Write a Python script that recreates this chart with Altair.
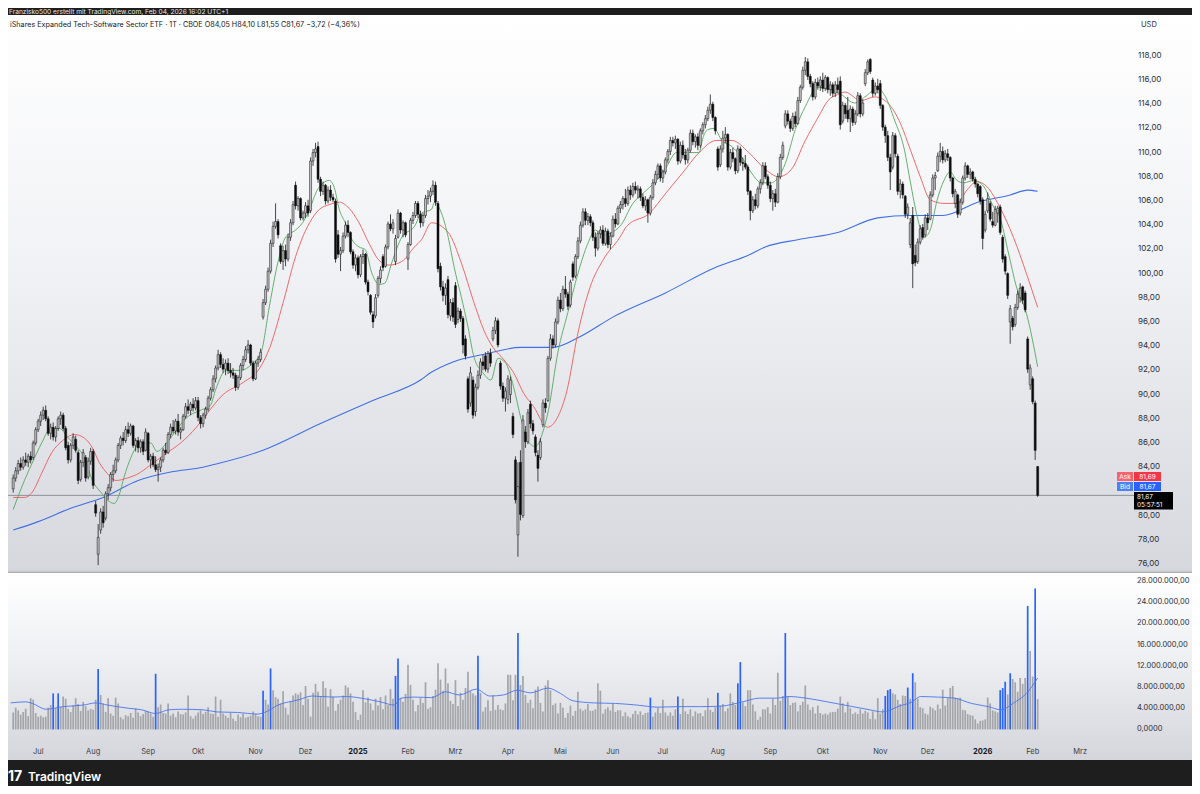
import altair as alt
import pandas as pd

# trading-day index: 0 = 1 Jul 2024, first candle = 14 Jun 2024 (index -10), last = 4 Feb 2026 (index 400)
FIRST_INDEX = -10

OPEN = [
    82.2, 83.1, 83.7, 84.3, 84.0, 84.6, 84.4, 84.9, 84.8, 86.0,  # Jun 24
    87.1, 87.8, 88.3, 88.7, 88.0, 86.8, 87.3, 86.5, 87.2, 88.0, 88.3, 87.2, 85.8, 84.6, 85.8, 86.3, 85.2, 83.0, 84.4, 84.8, 83.2, 84.5,  # Jul
    85.3, 80.9, 76.8, 78.8, 80.3, 79.8, 81.8, 82.3, 83.4, 83.7, 84.6, 85.8, 86.4, 86.2, 87.1, 86.8, 87.4, 85.8, 86.2, 85.6, 86.1, 85.4,  # Aug
    86.8, 84.6, 84.9, 84.2, 83.8, 84.0, 84.6, 85.4, 85.2, 86.7, 87.3, 87.0, 87.8, 86.9, 87.1, 88.2, 89.0, 88.7, 89.2, 88.9,  # Sep
    89.5, 88.1, 87.6, 88.3, 88.8, 89.7, 90.4, 91.3, 92.2, 93.3, 92.5, 92.1, 92.6, 92.0, 91.8, 91.6, 90.6, 91.4, 92.4, 92.9, 93.7, 94.1, 92.6,  # Okt
    91.3, 92.6, 92.9, 96.4, 97.6, 98.7, 100.2, 102.5, 103.9, 104.3, 102.3, 101.0, 101.9, 101.2, 103.0, 104.2, 107.3, 105.6, 106.2, 104.6,  # Nov
    105.0, 105.6, 105.2, 109.3, 110.0, 110.5, 107.8, 106.8, 107.3, 106.0, 106.9, 106.3, 106.0, 103.2, 101.6, 101.9, 103.1, 104.0, 103.4, 101.8, 100.7,  # Dez
    101.3, 99.9, 101.4, 101.6, 99.3, 98.2, 96.6, 96.5, 98.2, 99.6, 101.4, 100.6, 102.2, 104.1, 103.7, 101.0, 103.0, 105.0, 103.6, 104.2,  # Jan 25
    101.2, 102.4, 104.4, 104.8, 105.8, 104.9, 104.2, 104.8, 106.2, 106.4, 106.8, 107.3, 105.8, 100.6, 98.9, 98.2, 99.5, 96.5, 97.6,  # Feb
    99.0, 96.2, 96.9, 96.3, 94.6, 91.3, 89.3, 91.2, 88.6, 90.6, 91.6, 92.7, 93.2, 92.1, 93.4, 94.6, 95.3, 96.1, 92.6, 90.7, 89.7,  # Mrz
    89.6, 90.0, 88.2, 84.6, 78.4, 84.4, 80.0, 86.9, 86.1, 89.2, 87.6, 86.5, 85.0, 84.8, 87.5, 89.3, 89.5, 93.0, 94.6, 94.1, 96.0,  # Apr
    97.8, 97.1, 98.7, 98.3, 97.4, 100.8, 99.8, 101.4, 102.7, 104.0, 105.1, 104.4, 104.7, 104.2, 103.0, 102.1, 103.3, 103.6, 102.5, 103.5, 102.4,  # Mai
    103.1, 104.5, 104.1, 105.4, 105.7, 106.2, 105.8, 106.9, 106.5, 107.2, 106.9, 107.0, 106.3, 105.6, 106.1, 105.0, 106.3, 107.5, 108.2, 108.9,  # Jun
    107.9, 108.4, 109.4, 110.1, 111.0, 110.8, 111.1, 109.3, 110.6, 109.8, 109.4, 110.2, 111.6, 110.9, 111.3, 110.6, 111.8, 112.3, 112.8, 113.5, 114.0, 112.9,  # Jul
    110.3, 109.0, 110.3, 111.2, 111.5, 108.8, 110.0, 109.5, 108.5, 110.3, 109.2, 109.1, 108.8, 106.8, 105.2, 106.1, 105.6, 107.0, 107.5, 108.9, 108.0,  # Aug
    107.3, 106.2, 106.6, 105.9, 108.0, 109.6, 112.2, 113.2, 112.6, 112.0, 113.0, 112.4, 114.3, 115.4, 116.8, 117.5, 116.3, 115.7, 114.6, 115.8, 115.5,  # Sep
    116.0, 115.3, 116.2, 115.2, 115.6, 114.9, 115.6, 115.9, 112.6, 113.9, 113.5, 112.8, 113.6, 112.5, 113.2, 114.7, 113.2, 115.7, 116.6, 117.7, 116.0, 114.9, 115.5,  # Okt
    115.7, 113.9, 112.1, 111.4, 109.6, 108.8, 111.4, 109.7, 106.8, 107.4, 106.4, 104.9, 102.4, 104.8, 101.5, 101.0, 102.6, 103.8, 103.2,  # Nov
    104.6, 104.5, 106.5, 107.9, 108.5, 109.7, 110.1, 109.4, 109.9, 109.6, 107.9, 105.8, 106.5, 105.0, 105.9, 107.9, 108.9, 108.2, 108.4, 107.8, 107.4, 107.2,  # Dez
    106.1, 103.6, 105.2, 105.8, 104.3, 104.0, 105.0, 105.5, 103.0, 101.4, 100.0, 96.0, 96.3, 95.8, 97.2, 98.0, 98.9, 98.4, 94.6, 90.8,  # Jan 26
    91.3, 89.3, 84.05,  # Feb
]

HIGH = [
    83.4, 84.0, 84.6, 84.8, 84.9, 85.2, 85.1, 85.3, 86.2, 87.3,
    88.0, 88.6, 89.0, 89.1, 88.2, 87.6, 87.7, 87.4, 88.2, 88.6, 88.5, 87.4, 86.1, 86.0, 86.8, 86.6, 85.4, 84.6, 85.5, 85.0, 84.8, 85.6,
    85.5, 81.2, 79.3, 80.6, 80.8, 82.0, 82.6, 83.6, 84.2, 84.8, 86.0, 86.6, 86.9, 87.4, 87.7, 87.6, 87.5, 86.4, 86.5, 86.3, 86.3, 87.2,
    86.9, 85.1, 85.2, 84.9, 84.3, 84.8, 85.6, 86.0, 86.9, 87.6, 87.9, 88.0, 88.4, 87.3, 88.4, 89.3, 89.6, 89.4, 89.7, 89.8,
    89.8, 88.3, 88.5, 89.0, 89.9, 90.6, 91.6, 92.4, 93.7, 93.5, 93.0, 92.9, 93.0, 92.6, 92.2, 91.8, 91.6, 92.6, 93.2, 94.0, 94.5, 94.2, 92.8,
    92.8, 93.2, 93.8, 97.9, 99.0, 100.5, 102.8, 104.3, 105.8, 104.5, 102.5, 102.3, 102.4, 103.3, 104.5, 106.0, 107.6, 106.4, 106.3, 105.2,
    105.9, 106.1, 109.6, 110.3, 110.8, 110.9, 108.0, 107.6, 107.4, 107.2, 107.3, 106.6, 106.2, 103.6, 102.2, 103.4, 104.3, 104.4, 103.5, 102.0, 101.6,
    101.5, 101.6, 102.0, 101.7, 99.5, 98.3, 96.9, 98.3, 99.8, 100.6, 101.6, 102.4, 104.3, 104.9, 104.5, 103.2, 105.3, 105.1, 104.4, 104.3,
    102.6, 104.6, 105.1, 106.0, 106.0, 105.2, 105.0, 106.5, 106.9, 107.1, 107.7, 107.6, 106.0, 100.9, 99.4, 99.2, 99.8, 97.9, 98.0,
    99.3, 97.2, 97.1, 96.5, 94.9, 91.5, 92.3, 91.5, 90.9, 92.0, 93.0, 93.3, 93.5, 93.6, 93.8, 95.6, 96.4, 96.3, 92.8, 91.0, 90.6,
    91.6, 91.5, 88.5, 84.9, 84.4, 85.4, 88.3, 87.4, 88.8, 89.5, 87.9, 86.7, 85.4, 86.4, 89.6, 89.7, 93.2, 95.0, 94.9, 96.3, 98.1,
    98.4, 99.0, 99.8, 98.5, 99.5, 101.0, 101.6, 103.0, 104.3, 105.4, 105.4, 105.0, 104.9, 104.4, 103.4, 103.5, 103.9, 104.0, 103.8, 103.7, 103.4,
    104.8, 105.0, 105.6, 106.0, 106.4, 107.0, 107.2, 107.3, 107.5, 107.6, 107.3, 107.2, 106.6, 106.4, 106.2, 106.5, 107.8, 108.5, 109.1, 109.1,
    108.6, 109.6, 110.3, 111.3, 111.3, 111.4, 111.2, 110.9, 111.0, 110.3, 110.4, 111.9, 111.9, 111.5, 111.6, 112.0, 112.5, 113.1, 113.8, 114.8, 114.2, 113.0,
    110.5, 110.6, 111.8, 112.1, 111.6, 110.3, 110.4, 109.6, 110.6, 110.5, 109.6, 109.8, 109.0, 106.9, 106.4, 106.6, 107.2, 107.8, 109.2, 109.2, 108.2,
    107.6, 106.9, 107.0, 108.3, 109.9, 110.9, 113.5, 113.5, 112.8, 113.3, 113.4, 114.6, 115.6, 117.1, 117.9, 117.8, 116.5, 115.9, 116.1, 116.2, 116.3,
    116.6, 116.4, 116.3, 115.9, 115.8, 115.9, 116.2, 116.3, 114.2, 114.1, 114.6, 113.9, 113.8, 113.5, 115.0, 114.9, 114.4, 116.9, 117.7, 117.8, 116.2, 115.8, 116.1,
    116.0, 114.0, 112.3, 111.8, 109.9, 111.7, 111.6, 109.9, 107.8, 107.6, 106.5, 105.8, 104.6, 105.5, 102.4, 102.9, 104.0, 104.1, 104.9,
    105.0, 106.8, 108.2, 108.4, 110.0, 110.8, 110.5, 110.2, 110.3, 109.7, 108.0, 107.0, 106.6, 106.2, 108.1, 109.2, 109.0, 108.7, 108.5, 108.0, 107.5, 107.3,
    106.3, 105.2, 106.7, 106.0, 105.1, 105.6, 105.6, 105.7, 103.2, 101.6, 100.1, 97.4, 96.5, 97.5, 98.6, 99.2, 99.0, 98.6, 94.8, 92.5,
    91.5, 89.5, 84.10,
]

LOW = [
    81.9, 82.8, 83.4, 83.7, 83.8, 84.1, 84.0, 84.3, 84.6, 85.8,
    86.9, 87.4, 87.9, 87.8, 86.6, 86.3, 86.2, 86.1, 87.0, 87.5, 87.0, 85.4, 84.3, 84.4, 85.5, 85.2, 82.6, 82.8, 84.0, 82.8, 83.0, 84.2,
    82.2, 79.9, 75.9, 78.5, 79.0, 79.6, 81.3, 82.0, 82.8, 83.5, 84.4, 85.5, 85.8, 86.0, 86.5, 86.6, 85.6, 85.3, 85.2, 85.2, 85.0, 85.3,
    84.4, 83.9, 84.0, 83.6, 82.8, 83.6, 84.4, 85.0, 85.1, 86.4, 86.8, 86.7, 86.6, 86.3, 87.0, 88.0, 88.4, 88.3, 88.6, 88.7,
    87.8, 87.2, 87.3, 88.0, 88.6, 89.5, 90.2, 91.0, 92.0, 92.2, 91.8, 91.6, 91.7, 91.4, 91.3, 90.3, 90.4, 91.2, 92.0, 92.7, 93.4, 92.4, 91.1,
    91.2, 92.3, 92.7, 96.2, 97.4, 98.5, 100.0, 102.2, 103.7, 102.9, 100.8, 100.3, 100.6, 101.0, 102.7, 104.0, 105.3, 105.2, 104.4, 104.4,
    104.6, 104.7, 105.0, 108.9, 109.6, 107.5, 106.4, 106.5, 105.7, 105.8, 106.0, 105.9, 100.9, 101.3, 100.2, 101.7, 102.9, 103.0, 101.6, 100.4, 100.2,
    99.6, 99.7, 100.8, 99.1, 98.2, 96.6, 95.5, 96.3, 98.0, 99.2, 100.2, 100.5, 102.0, 103.5, 103.3, 100.7, 102.9, 103.3, 103.0, 103.0,
    100.3, 102.3, 104.1, 104.6, 104.6, 103.8, 103.9, 104.6, 105.7, 105.9, 106.5, 105.6, 100.1, 98.6, 97.7, 97.4, 96.3, 96.1, 96.0,
    95.5, 95.9, 96.0, 93.4, 92.9, 88.5, 89.0, 88.0, 88.2, 90.4, 91.3, 92.0, 91.9, 91.8, 92.3, 94.4, 95.0, 93.9, 90.4, 89.4, 88.6,
    89.2, 89.3, 86.4, 81.0, 76.6, 79.6, 79.8, 85.6, 85.9, 87.2, 86.7, 84.9, 82.8, 84.6, 87.3, 88.5, 89.4, 92.8, 93.8, 93.9, 95.8,
    96.8, 96.9, 98.0, 97.0, 97.2, 99.4, 99.6, 101.2, 102.5, 103.8, 104.0, 104.0, 103.9, 102.7, 101.4, 101.9, 102.9, 102.3, 102.3, 102.1, 102.0,
    103.0, 103.8, 104.0, 105.0, 105.3, 105.5, 105.6, 106.1, 106.3, 106.6, 106.2, 106.0, 105.4, 105.2, 104.2, 104.8, 106.1, 107.3, 107.8, 107.6,
    107.5, 108.2, 109.1, 109.8, 110.5, 110.3, 109.0, 109.1, 109.5, 109.0, 109.1, 110.0, 110.6, 110.4, 110.2, 110.4, 111.5, 112.0, 112.6, 113.2, 112.6, 111.5,
    108.5, 108.8, 110.0, 110.8, 108.5, 108.6, 109.2, 108.2, 108.3, 108.9, 108.5, 108.6, 106.5, 104.4, 105.0, 105.3, 105.4, 106.6, 107.3, 107.8, 107.0,
    105.9, 105.2, 105.5, 105.8, 107.8, 109.4, 112.0, 112.3, 111.7, 111.8, 112.1, 112.3, 114.1, 115.2, 116.4, 116.0, 115.4, 114.3, 114.4, 115.2, 115.1,
    115.0, 115.1, 114.9, 114.7, 114.6, 114.6, 114.9, 111.9, 112.4, 112.8, 112.5, 111.7, 112.2, 112.3, 113.0, 112.9, 113.0, 115.5, 116.4, 116.5, 114.6, 114.7, 114.9,
    113.6, 111.8, 110.8, 109.3, 106.9, 108.6, 109.6, 106.5, 106.2, 106.2, 104.6, 104.5, 102.1, 98.8, 100.6, 100.8, 102.4, 102.8, 103.0,
    103.6, 104.4, 106.3, 106.9, 108.4, 109.2, 109.1, 109.2, 109.3, 107.6, 106.3, 105.4, 104.6, 104.8, 105.7, 107.7, 107.9, 107.8, 107.6, 107.1, 106.3, 105.7,
    102.0, 103.4, 105.0, 104.3, 103.8, 103.9, 104.2, 103.2, 100.9, 99.9, 97.9, 94.2, 95.3, 95.6, 97.0, 97.6, 97.5, 96.8, 91.8, 90.4,
    89.2, 84.6, 81.55,
]

CLOSE = [
    83.1, 83.7, 84.3, 84.0, 84.6, 84.4, 84.9, 84.6, 86.0, 87.1,
    87.8, 88.3, 88.7, 88.0, 86.8, 87.3, 86.5, 87.2, 88.0, 88.3, 87.2, 85.6, 84.6, 85.8, 86.5, 85.4, 82.9, 84.4, 85.2, 83.1, 84.5, 85.3,
    82.5, 80.2, 78.2, 80.3, 79.4, 81.8, 82.3, 83.4, 83.7, 84.6, 85.8, 86.4, 86.2, 87.1, 86.8, 87.4, 85.8, 86.2, 85.6, 86.1, 85.3, 86.9,
    84.6, 84.9, 84.2, 83.8, 84.0, 84.6, 85.4, 85.2, 86.7, 87.3, 87.0, 87.8, 86.9, 87.1, 88.2, 89.0, 88.7, 89.2, 88.9, 89.5,
    88.1, 87.6, 88.3, 88.8, 89.7, 90.4, 91.3, 92.2, 93.3, 92.5, 92.1, 92.6, 92.0, 91.8, 91.6, 90.6, 91.4, 92.4, 92.9, 93.7, 94.1, 92.6, 91.3,
    92.6, 92.9, 93.5, 97.6, 98.7, 100.2, 102.5, 103.9, 104.3, 103.2, 101.0, 101.9, 101.2, 103.0, 104.2, 105.7, 105.6, 106.2, 104.6, 105.0,
    105.6, 105.0, 109.3, 110.0, 110.3, 107.8, 106.8, 107.3, 106.0, 106.9, 106.3, 106.1, 101.2, 101.6, 101.9, 103.1, 104.0, 103.4, 101.8, 100.7, 101.3,
    99.9, 101.4, 101.6, 99.3, 98.5, 96.8, 96.0, 98.0, 99.6, 100.3, 100.5, 102.2, 104.1, 103.7, 104.2, 102.9, 105.0, 103.6, 104.2, 103.2,
    102.4, 104.4, 104.8, 105.8, 104.9, 104.2, 104.8, 106.2, 106.4, 106.8, 107.3, 105.9, 100.4, 98.9, 98.2, 98.8, 96.6, 97.6, 96.4,
    95.8, 96.9, 96.3, 94.1, 93.2, 88.8, 91.8, 88.3, 90.6, 91.6, 92.7, 92.4, 92.1, 93.4, 92.6, 95.3, 96.1, 94.1, 90.7, 89.7, 90.3,
    91.3, 91.2, 86.7, 81.3, 82.4, 80.1, 87.9, 86.1, 88.5, 87.6, 87.0, 85.2, 83.9, 86.1, 89.3, 88.9, 93.0, 94.6, 94.1, 96.0, 97.8,
    97.1, 98.7, 98.3, 97.3, 99.3, 99.7, 101.4, 102.7, 104.0, 105.1, 104.4, 104.7, 104.2, 103.0, 102.1, 103.3, 103.6, 102.5, 103.5, 102.4, 103.1,
    104.5, 104.1, 105.4, 105.7, 106.2, 105.8, 106.9, 106.5, 107.2, 106.9, 107.0, 106.3, 105.6, 106.1, 105.0, 106.3, 107.5, 108.2, 108.9, 107.9,
    108.4, 109.4, 110.1, 111.0, 110.8, 111.1, 109.3, 110.6, 109.8, 109.4, 110.2, 111.6, 110.9, 111.3, 110.6, 111.8, 112.3, 112.8, 113.5, 114.0, 112.9, 111.8,
    108.8, 110.3, 111.2, 111.5, 108.8, 110.0, 109.5, 108.5, 110.3, 109.2, 109.1, 108.8, 106.8, 105.2, 106.1, 105.6, 107.0, 107.5, 108.9, 108.0, 107.3,
    106.2, 106.6, 105.9, 108.0, 109.6, 110.6, 113.2, 112.6, 112.0, 113.0, 112.4, 114.3, 115.4, 116.8, 117.5, 116.3, 115.7, 114.6, 115.8, 115.5, 116.0,
    115.3, 116.2, 115.2, 115.6, 114.9, 115.6, 115.2, 112.3, 113.9, 113.2, 112.8, 113.6, 112.5, 113.2, 114.7, 113.2, 114.1, 116.6, 117.5, 116.7, 114.9, 115.5, 115.2,
    113.9, 112.1, 111.4, 109.6, 108.4, 111.4, 109.9, 106.8, 107.4, 106.5, 104.9, 105.5, 104.2, 100.8, 100.9, 102.6, 103.7, 103.0, 104.6,
    104.2, 106.5, 107.9, 108.1, 109.7, 110.1, 109.4, 109.9, 109.6, 107.9, 106.6, 106.8, 104.9, 105.9, 107.9, 108.9, 108.2, 108.4, 107.8, 107.4, 106.6, 106.0,
    102.9, 104.9, 106.2, 104.5, 104.0, 105.3, 105.4, 103.4, 101.2, 100.2, 98.2, 97.1, 95.6, 97.2, 98.3, 98.8, 97.8, 97.0, 92.1, 92.2,
    89.4, 85.39, 81.67,
]

# volume in millions of shares
VOLUME_M = [
    3.2, 4.1, 3.6, 2.8, 3.3, 3.9, 2.5, 5.9, 5.6, 3.1,
    2.4, 2.6, 2.3, 2.4, 4.1, 4.6, 6.8, 4.0, 6.8, 4.2, 6.2, 5.8, 3.9, 3.3, 4.6, 5.9, 4.8, 3.5, 5.2, 4.4, 3.6, 3.9,
    3.7, 5.6, 11.4, 6.5, 4.9, 3.3, 5.9, 3.0, 2.6, 6.0, 4.9, 2.3, 1.9, 2.7, 2.5, 3.1, 2.2, 4.0, 3.2, 2.5, 2.9, 3.5,
    3.4, 3.0, 2.4, 10.5, 4.2, 4.7, 3.1, 3.0, 4.9, 2.6, 3.0, 2.3, 3.4, 2.9, 2.8, 3.2, 6.4, 2.5, 2.0, 2.6,
    3.2, 3.6, 2.9, 3.3, 4.2, 3.0, 2.9, 6.2, 2.4, 5.6, 3.0, 2.6, 2.2, 3.1, 2.0, 1.6, 2.8, 2.3, 3.0, 2.2, 2.4, 2.6, 3.4,
    2.9, 2.5, 2.4, 7.3, 5.6, 4.7, 11.5, 7.4, 6.1, 5.8, 4.9, 7.2, 4.1, 2.8, 5.3, 6.4, 6.8, 6.6, 7.0, 4.6,
    8.2, 5.8, 2.4, 6.9, 8.6, 7.1, 6.3, 9.1, 7.8, 4.3, 7.6, 6.2, 3.5, 4.8, 5.6, 6.4, 8.3, 7.9, 6.8, 5.2, 3.3,
    1.8, 2.8, 7.4, 5.1, 6.0, 4.9, 3.6, 5.8, 4.5, 6.1, 3.8, 6.4, 4.6, 7.6, 5.8, 10.1, 13.4, 5.9, 5.2, 6.7,
    12.2, 8.4, 5.6, 3.4, 4.6, 5.9, 5.0, 8.9, 3.9, 4.2, 6.3, 7.5, 12.5, 9.4, 7.3, 11.5, 8.7, 5.4, 4.8,
    9.3, 4.4, 6.9, 5.6, 7.8, 10.9, 7.2, 6.8, 6.4, 13.9, 6.9, 3.4, 4.2, 5.5, 3.5, 6.4, 3.7, 4.6, 3.8, 3.6, 4.9,
    10.3, 10.3, 5.5, 10.3, 18.2, 8.4, 10.1, 6.5, 5.0, 5.6, 4.0, 7.5, 8.1, 5.0, 3.4, 8.3, 9.3, 7.4, 4.6, 4.9, 3.0,
    5.0, 4.1, 2.2, 3.1, 4.5, 2.6, 3.5, 7.1, 3.9, 3.5, 3.8, 4.8, 3.5, 3.5, 3.8, 8.7, 7.3, 3.0, 3.8, 4.2, 3.6,
    4.8, 3.3, 3.6, 3.6, 2.5, 3.2, 2.5, 2.2, 2.9, 3.5, 2.8, 3.4, 2.7, 3.1, 3.2, 6.0, 2.4, 3.2, 4.1, 3.1,
    5.6, 3.2, 2.6, 3.2, 2.6, 3.8, 6.2, 2.9, 5.8, 3.4, 2.9, 3.8, 2.5, 3.4, 3.0, 3.1, 2.5, 3.6, 5.9, 3.7, 3.3, 4.2,
    6.9, 4.5, 4.8, 3.4, 4.0, 6.8, 5.2, 4.6, 8.7, 12.7, 5.1, 4.4, 7.4, 7.4, 4.7, 3.4, 1.8, 2.4, 3.8, 3.8, 4.2,
    3.0, 5.8, 4.6, 10.7, 5.4, 6.3, 18.2, 6.2, 4.6, 5.0, 5.1, 3.4, 4.6, 5.2, 8.3, 4.7, 3.7, 4.2, 3.0, 4.5, 3.1,
    2.8, 3.0, 2.8, 3.2, 3.3, 3.3, 3.9, 6.2, 4.9, 3.2, 5.2, 4.0, 2.9, 3.2, 2.9, 3.8, 3.0, 3.5, 3.2, 2.0, 3.4, 1.9, 5.9,
    3.0, 3.8, 6.3, 7.4, 7.6, 6.8, 6.6, 5.6, 4.8, 6.4, 6.3, 7.9, 5.8, 10.6, 8.9, 5.8, 4.2, 4.0, 3.0,
    2.8, 4.3, 4.0, 3.6, 4.7, 3.9, 7.5, 4.5, 5.9, 7.8, 8.2, 6.0, 5.9, 6.0, 3.7, 3.6, 2.9, 2.7, 2.6, 1.9, 1.1, 1.6,
    1.7, 1.9, 6.0, 4.9, 3.6, 3.4, 3.2, 7.4, 7.8, 9.0, 6.6, 10.6, 9.5, 8.9, 7.1, 9.7, 8.6, 9.7, 23.3, 14.8,
    10.0, 26.6, 5.7,
]

# days whose volume bar is drawn blue (volume spikes)
BLUE_VOLUME_IDX = [6, 8, 24, 47, 90, 93, 143, 144, 176, 192, 245, 256, 272, 280, 281, 299,
                   339, 340, 341, 348, 350, 385, 386, 387, 389, 396, 399]

# moving averages (trading-day index, value)
FAST_MA_IDX = [-10, -6.5, -2.5, 1.4, 4.6, 8.6, 11.7, 15.3, 18.5, 21.7, 25.2, 27.6, 30.4, 32.4, 34.4, 37.1,
               41.1, 45.1, 47.5, 51.4, 55.4, 59.4, 64.9, 68.9, 71, 75.2, 80.8, 86, 89.1, 92.7, 95.9, 99,
               103, 105.8, 108.6, 111.7, 116.5, 118.5, 120.5, 122.9, 125.6, 128.4, 130.8, 133.6, 136.4,
               138.7, 141.5, 145.5, 150.6, 153.4, 157.4, 158.6, 161.4, 164.1, 166.5, 169.3, 172, 174.4,
               178, 181.2, 184, 187.1, 190.3, 193.1, 195.9, 199, 201.8, 204.2, 208, 212, 216, 220, 223,
               226, 232.8, 238, 243.5, 247.5, 251.4, 255.4, 259.4, 264.5, 266, 268, 270.5, 273.6, 277.6,
               281.6, 285.5, 289.5, 293.5, 296.3, 299, 303, 307, 312.1, 316, 321.3, 326.8, 330.8, 336,
               339.1, 342.7, 346.7, 349.1, 351.8, 354.6, 357, 359.8, 362.5, 364.9, 367.7, 370.5, 374.4,
               378.4, 382.4, 384.8, 388.3, 391.5, 395.5, 400]
FAST_MA_VAL = [80.5, 82.4, 84.3, 86.0, 87.1, 87.2, 86.5, 85.7, 84.8, 82.9, 81.9, 81.3, 81.0, 81.7, 83.2, 84.8,
               86.0, 86.0, 85.3, 86.0, 87.1, 88.1, 88.7, 89.1, 90.4, 92.0, 92.0, 92.6, 93.4, 97.5, 100.9, 103.0,
               103.6, 104.2, 105.3, 106.9, 107.7, 107.1, 105.3, 104.2, 102.8, 102.2, 102.0, 100.0, 99.1,
               99.2, 100.9, 103.0, 103.9, 105.0, 105.3, 105.9, 105.0, 103.0, 100.5, 98.1, 95.6, 93.1,
               91.8, 91.2, 93.0, 92.6, 90.6, 88.1, 86.2, 85.7, 86.8, 88.7, 93.5, 96.8, 100.0, 102.5, 103.6,
               103.2, 103.9, 105.8, 106.9, 107.7, 108.8, 110.0, 110.0, 110.0, 111.2, 111.9, 112.0, 111.0, 110.5,
               109.6, 108.3, 107.5, 107.5, 108.0, 109.1, 111.9, 113.8, 115.4, 115.3, 114.8, 114.1, 114.6, 115.3,
               114.6, 112.7, 110.2, 107.5, 104.7, 103.0, 103.6, 106.1, 107.7, 108.4, 107.7, 107.5, 107.7,
               107.2, 105.5, 104.7, 101.7, 98.9, 96.7, 92.3]

SLOW_MA_IDX = [-10, -5.3, -2.5, 1.4, 5.4, 9.8, 14.5, 18.5, 21.7, 24.4, 27.6, 31.2, 35.6, 39.5, 45.1, 50.2,
               57, 63.3, 66, 74, 82, 88.7, 92.7, 97.9, 103, 108.6, 112.5, 116.5, 120.5, 124.4, 128.4,
               132.4, 136.4, 140.3, 145.5, 150.6, 153.4, 157.4, 164.1, 169.3, 174.4, 178.4, 182, 186.3,
               190.3, 194.3, 198.3, 203.8, 207.8, 211.7, 215.7, 220.9, 226, 232.8, 235.5, 244.7, 251.4,
               257.8, 264.5, 271.3, 277.7, 284.4, 291.1, 296.3, 301.4, 307, 312.1, 316.1, 320, 322.9,
               329.2, 334.8, 340, 345.1, 349.1, 353, 357, 362.5, 367.7, 371.7, 375.6, 379.6, 384.8,
               390.3, 395.5, 400]
SLOW_MA_VAL = [81.5, 81.5, 81.9, 83.5, 85.2, 86.2, 86.7, 86.4, 85.6, 84.4, 83.5, 82.9, 83.1, 83.4, 84.2, 85.0,
               86.0, 87.3, 88.0, 90.0, 91.0, 92.2, 93.9, 97.5, 101.4, 104.2, 105.3, 105.7, 105.9, 105.4, 104.2,
               102.5, 101.1, 100.7, 101.0, 102.2, 102.8, 104.2, 103.4, 100.9, 97.6, 95.3, 93.9, 92.9,
               91.8, 90.1, 89.0, 87.3, 88.1, 90.4, 94.8, 98.9, 101.1, 103.0, 103.9, 105.0, 106.7,
               108.3, 110.0, 111.0, 111.0, 110.0, 108.6, 108.0, 108.6, 111.0, 112.9, 114.3, 114.8, 115.0,
               114.3, 114.6, 114.1, 112.4, 110.2, 108.0, 106.1, 105.8, 105.8, 106.9, 107.6, 107.2, 105.5,
               103.0, 100.0, 97.2]

LONG_MA_IDX = [-10, 0, 13, 26, 40, 53, 66, 72, 90, 113, 135, 153, 157, 166, 180, 193, 206, 217, 230,
               251, 271, 284, 291, 304, 320, 336, 349, 362, 376, 389, 396, 400]
LONG_MA_VAL = [78.8, 79.5, 80.6, 81.5, 82.9, 83.6, 84.0, 84.3, 85.4, 87.6, 89.6, 91.2, 91.8, 92.7, 93.4,
               93.9, 93.9, 94.8, 96.4, 98.4, 100.5, 101.5, 102.2, 102.8, 103.4, 104.6, 104.8, 104.8, 105.9,
               106.5, 106.9, 106.8]

VOL_MA_IDX = [-11, -5.1, -2.3, 3.1, 10, 18.2, 23, 27.7, 36, 41.4, 47, 52.3, 57.8, 66, 71.5, 79.7, 87.8,
              90.6, 96, 104.3, 109.7, 118, 123.4, 131.6, 137, 142.5, 145.2, 150.7, 157.5, 163, 168.5,
              175.3, 180.8, 186.2, 191.7, 197, 204, 209, 214, 222.5, 231, 239.5, 248, 256.5, 265, 273.4,
              281.9, 288.7, 295.5, 300.5, 307.3, 315.8, 326, 332.8, 337.9, 344.6, 349.7, 353.1, 359.9,
              366.7, 373.5, 380.3, 385.3, 390.4, 395.5, 400]
VOL_MA_VAL = [5.0, 5.2, 4.9, 3.8, 4.3, 4.6, 5.0, 4.6, 4.0, 3.7, 3.0, 3.7, 3.8, 3.7, 3.3, 3.2, 2.9,
              3.2, 4.6, 5.6, 6.3, 6.1, 6.2, 5.7, 5.2, 4.6, 5.9, 6.1, 6.0, 7.1, 6.5,
              7.6, 6.3, 6.5, 7.4, 6.9, 7.8, 6.8, 5.4, 5.0, 4.9, 4.6, 4.2, 4.3, 4.3, 4.4,
              5.2, 5.9, 5.9, 6.2, 5.9, 5.2, 4.3, 3.7, 3.3, 4.4, 5.2, 6.2, 6.1,
              5.9, 4.9, 4.3, 3.7, 5.0, 6.8, 9.7]

MONTH_IDX = [0, 22, 44, 64, 87, 107, 128, 148, 167, 188, 209, 230, 250, 272, 293, 314, 337, 356, 378, 398, 417]
MONTH_LBL = ["Jul", "Aug", "Sep", "Okt", "Nov", "Dez", "2025", "Feb", "Mrz", "Apr", "Mai", "Jun",
             "Jul", "Aug", "Sep", "Okt", "Nov", "Dez", "2026", "Feb", "Mrz"]

# price scale labels shown (82,00 is hidden behind the last-price tags in the reference)
PRICE_TICKS = [76, 78, 80, 84, 86, 88, 90, 92, 94, 96, 98, 100, 102, 104, 106, 108, 110, 112, 114, 116, 118]
VOLUME_TICKS_M = [0, 4, 8, 12, 16, 20, 24, 28]
VOLUME_TICK_LBL = ["0,0000", "4.000.000,00", "8.000.000,00", "12.000.000,00", "16.000.000,00",
                   "20.000.000,00", "24.000.000,00", "28.000.000,00"]

ASK, BID, COUNTDOWN = "81,69", "81,67", "05:57:51"
TITLE = "iShares Expanded Tech-Software Sector ETF · 1T · CBOE   O84,05  H84,10  L81,55  C81,67  −3,72 (−4,36%)"
HEADER = "Franzisko500 erstellt mit TradingView.com, Feb 04, 2026 16:02 UTC+1"

# ------------------------------------------------------------------ data frames
n = len(CLOSE)
candles = pd.DataFrame({
    "i": list(range(FIRST_INDEX, FIRST_INDEX + n)),
    "o": OPEN[:n], "h": HIGH[:n], "l": LOW[:n], "c": CLOSE[:n], "vol": VOLUME_M[:n],
})
candles["blue"] = candles["i"].isin(BLUE_VOLUME_IDX)
fast = pd.DataFrame({"i": FAST_MA_IDX, "v": FAST_MA_VAL})
slow = pd.DataFrame({"i": SLOW_MA_IDX, "v": SLOW_MA_VAL})
longm = pd.DataFrame({"i": LONG_MA_IDX, "v": LONG_MA_VAL})
volma = pd.DataFrame({"i": VOL_MA_IDX, "v": VOL_MA_VAL})
months = pd.DataFrame({"i": MONTH_IDX, "t": MONTH_LBL})
months["year"] = months["t"].str.isdigit()
pticks = pd.DataFrame({"p": PRICE_TICKS, "t": [f"{p},00" for p in PRICE_TICKS]})
vticks = pd.DataFrame({"v": VOLUME_TICKS_M, "t": VOLUME_TICK_LBL})
one = pd.DataFrame({"a": [0]})

W, H = 1184, 745
FONT = "Inter"
XS = alt.Scale(domain=[-10.08, 459.76], nice=False, zero=False)
PS = alt.Scale(domain=[59.80, 121.37], nice=False, zero=False)
VS = alt.Scale(domain=[-5.77, 134.79], nice=False, zero=False)

X = alt.X("i:Q", scale=XS, axis=None)


def py(field):
    return alt.Y(f"{field}:Q", scale=PS, axis=None)


def grad(top, mid, bottom):
    return alt.LinearGradient(
        gradient="linear", x1=0, x2=0, y1=0, y2=1,
        stops=[alt.GradientStop(color=top, offset=0),
               alt.GradientStop(color=mid, offset=0.45),
               alt.GradientStop(color=bottom, offset=1)])


def box(x1, x2, y1, y2, color):
    return alt.Chart(one).mark_rect(color=color).encode(
        x=alt.value(x1), x2=alt.value(x2), y=alt.value(y1), y2=alt.value(y2))


def label(txt, x, y, size=8, color="#ffffff", align="left", weight="normal", baseline="middle"):
    return alt.Chart(one).mark_text(
        text=txt, fontSize=size, color=color, align=align, baseline=baseline,
        font=FONT, fontWeight=weight).encode(x=alt.value(x), y=alt.value(y))


price_bg = box(0, W, 0, 556, grad("#ffffff", "#f1f2f5", "#d6d8de"))
vol_bg = box(0, W, 557.5, H, grad("#ffffff", "#eef0f3", "#d4d6dc"))
sep = box(0, W, 555.5, 557.5, "#c9cbd1")

last_line = alt.Chart(pd.DataFrame({"p": [CLOSE[-1]]})).mark_rule(color="#8d9099", strokeWidth=1).encode(
    y=py("p"), x=alt.value(0), x2=alt.value(1126))

long_line = alt.Chart(longm).mark_line(color="#3f6fe6", strokeWidth=1.1, interpolate="monotone").encode(x=X, y=py("v"))
slow_line = alt.Chart(slow).mark_line(color="#ef5a5a", strokeWidth=0.9, interpolate="monotone").encode(x=X, y=py("v"))
fast_line = alt.Chart(fast).mark_line(color="#54a860", strokeWidth=0.9, interpolate="monotone").encode(x=X, y=py("v"))

wicks = alt.Chart(candles).mark_rule(color="#1b1b1b", strokeWidth=0.8).encode(x=X, y=py("l"), y2="h:Q")
bodies = alt.Chart(candles).mark_bar(width=2.0, strokeWidth=0.5, stroke="#111111").encode(
    x=X, y=py("o"), y2="c:Q",
    fill=alt.condition("datum.c >= datum.o", alt.value("#c2c2c4"), alt.value("#0c0c0c")))

vol_bars = alt.Chart(candles).mark_bar(width=1.7).encode(
    x=X, y=alt.Y("vol:Q", scale=VS, axis=None), y2=alt.datum(0),
    color=alt.condition("datum.blue", alt.value("#2962ff"), alt.value("#a4a5a9")))
vol_line = alt.Chart(volma).mark_line(color="#4a74ee", strokeWidth=0.9, interpolate="monotone").encode(
    x=X, y=alt.Y("v:Q", scale=VS, axis=None))

price_lbl = alt.Chart(pticks).mark_text(align="left", baseline="middle", fontSize=8, color="#2a2e39", font=FONT).encode(
    x=alt.value(1130), y=py("p"), text="t:N")
vol_lbl = alt.Chart(vticks).mark_text(align="left", baseline="middle", fontSize=7.5, color="#2a2e39", font=FONT).encode(
    x=alt.value(1129), y=alt.Y("v:Q", scale=VS, axis=None), text="t:N")
month_lbl = alt.Chart(months).transform_filter("!datum.year").mark_text(
    align="center", baseline="middle", fontSize=7.5, color="#3a3e49", font=FONT).encode(
    x=X, y=alt.value(737), text="t:N")
year_lbl = alt.Chart(months).transform_filter("datum.year").mark_text(
    align="center", baseline="middle", fontSize=7.5, color="#131722", font=FONT, fontWeight="bold").encode(
    x=X, y=alt.value(737), text="t:N")

annotations = [
    label(HEADER, 1, -3.2, size=6.6, color="#e6e6e6"),
    label(TITLE, 2, 9.5, size=7.2, color="#131722"),
    label("USD", 1133, 10, size=7.5, color="#2a2e39"),
    box(1109, 1125, 457, 466, "#f4646e"), box(1126, 1153, 457, 466, "#f23645"),
    label("Ask", 1117, 461.5, size=6.5, align="center"), label(ASK, 1139.5, 461.5, size=6.5, align="center"),
    box(1109, 1125, 467, 476, "#4d7ff7"), box(1126, 1153, 467, 476, "#2962ff"),
    label("Bid", 1117, 471.5, size=6.5, align="center"), label(BID, 1139.5, 471.5, size=6.5, align="center"),
    box(1126, 1165, 477, 494.5, "#000000"),
    label(BID, 1129, 481.5, size=6.4), label(COUNTDOWN, 1129, 490, size=6.4),
    label("17", 0, 762, size=14, weight="bold"),
    label("TradingView", 20, 762, size=12, weight=600),
]

chart = alt.layer(
    price_bg, vol_bg, sep, last_line, long_line, slow_line, fast_line, wicks, bodies,
    vol_bars, vol_line, price_lbl, vol_lbl, month_lbl, year_lbl, *annotations
).resolve_scale(y="independent").properties(
    width=W, height=H,
    autosize=alt.AutoSizeParams(type="none"),
    padding={"left": 0, "top": 7, "right": 0, "bottom": 26},
    background="#1e1e1e",
).configure_view(stroke=None)

chart.save("out.html", embed_options={"renderer": "svg", "actions": False})
